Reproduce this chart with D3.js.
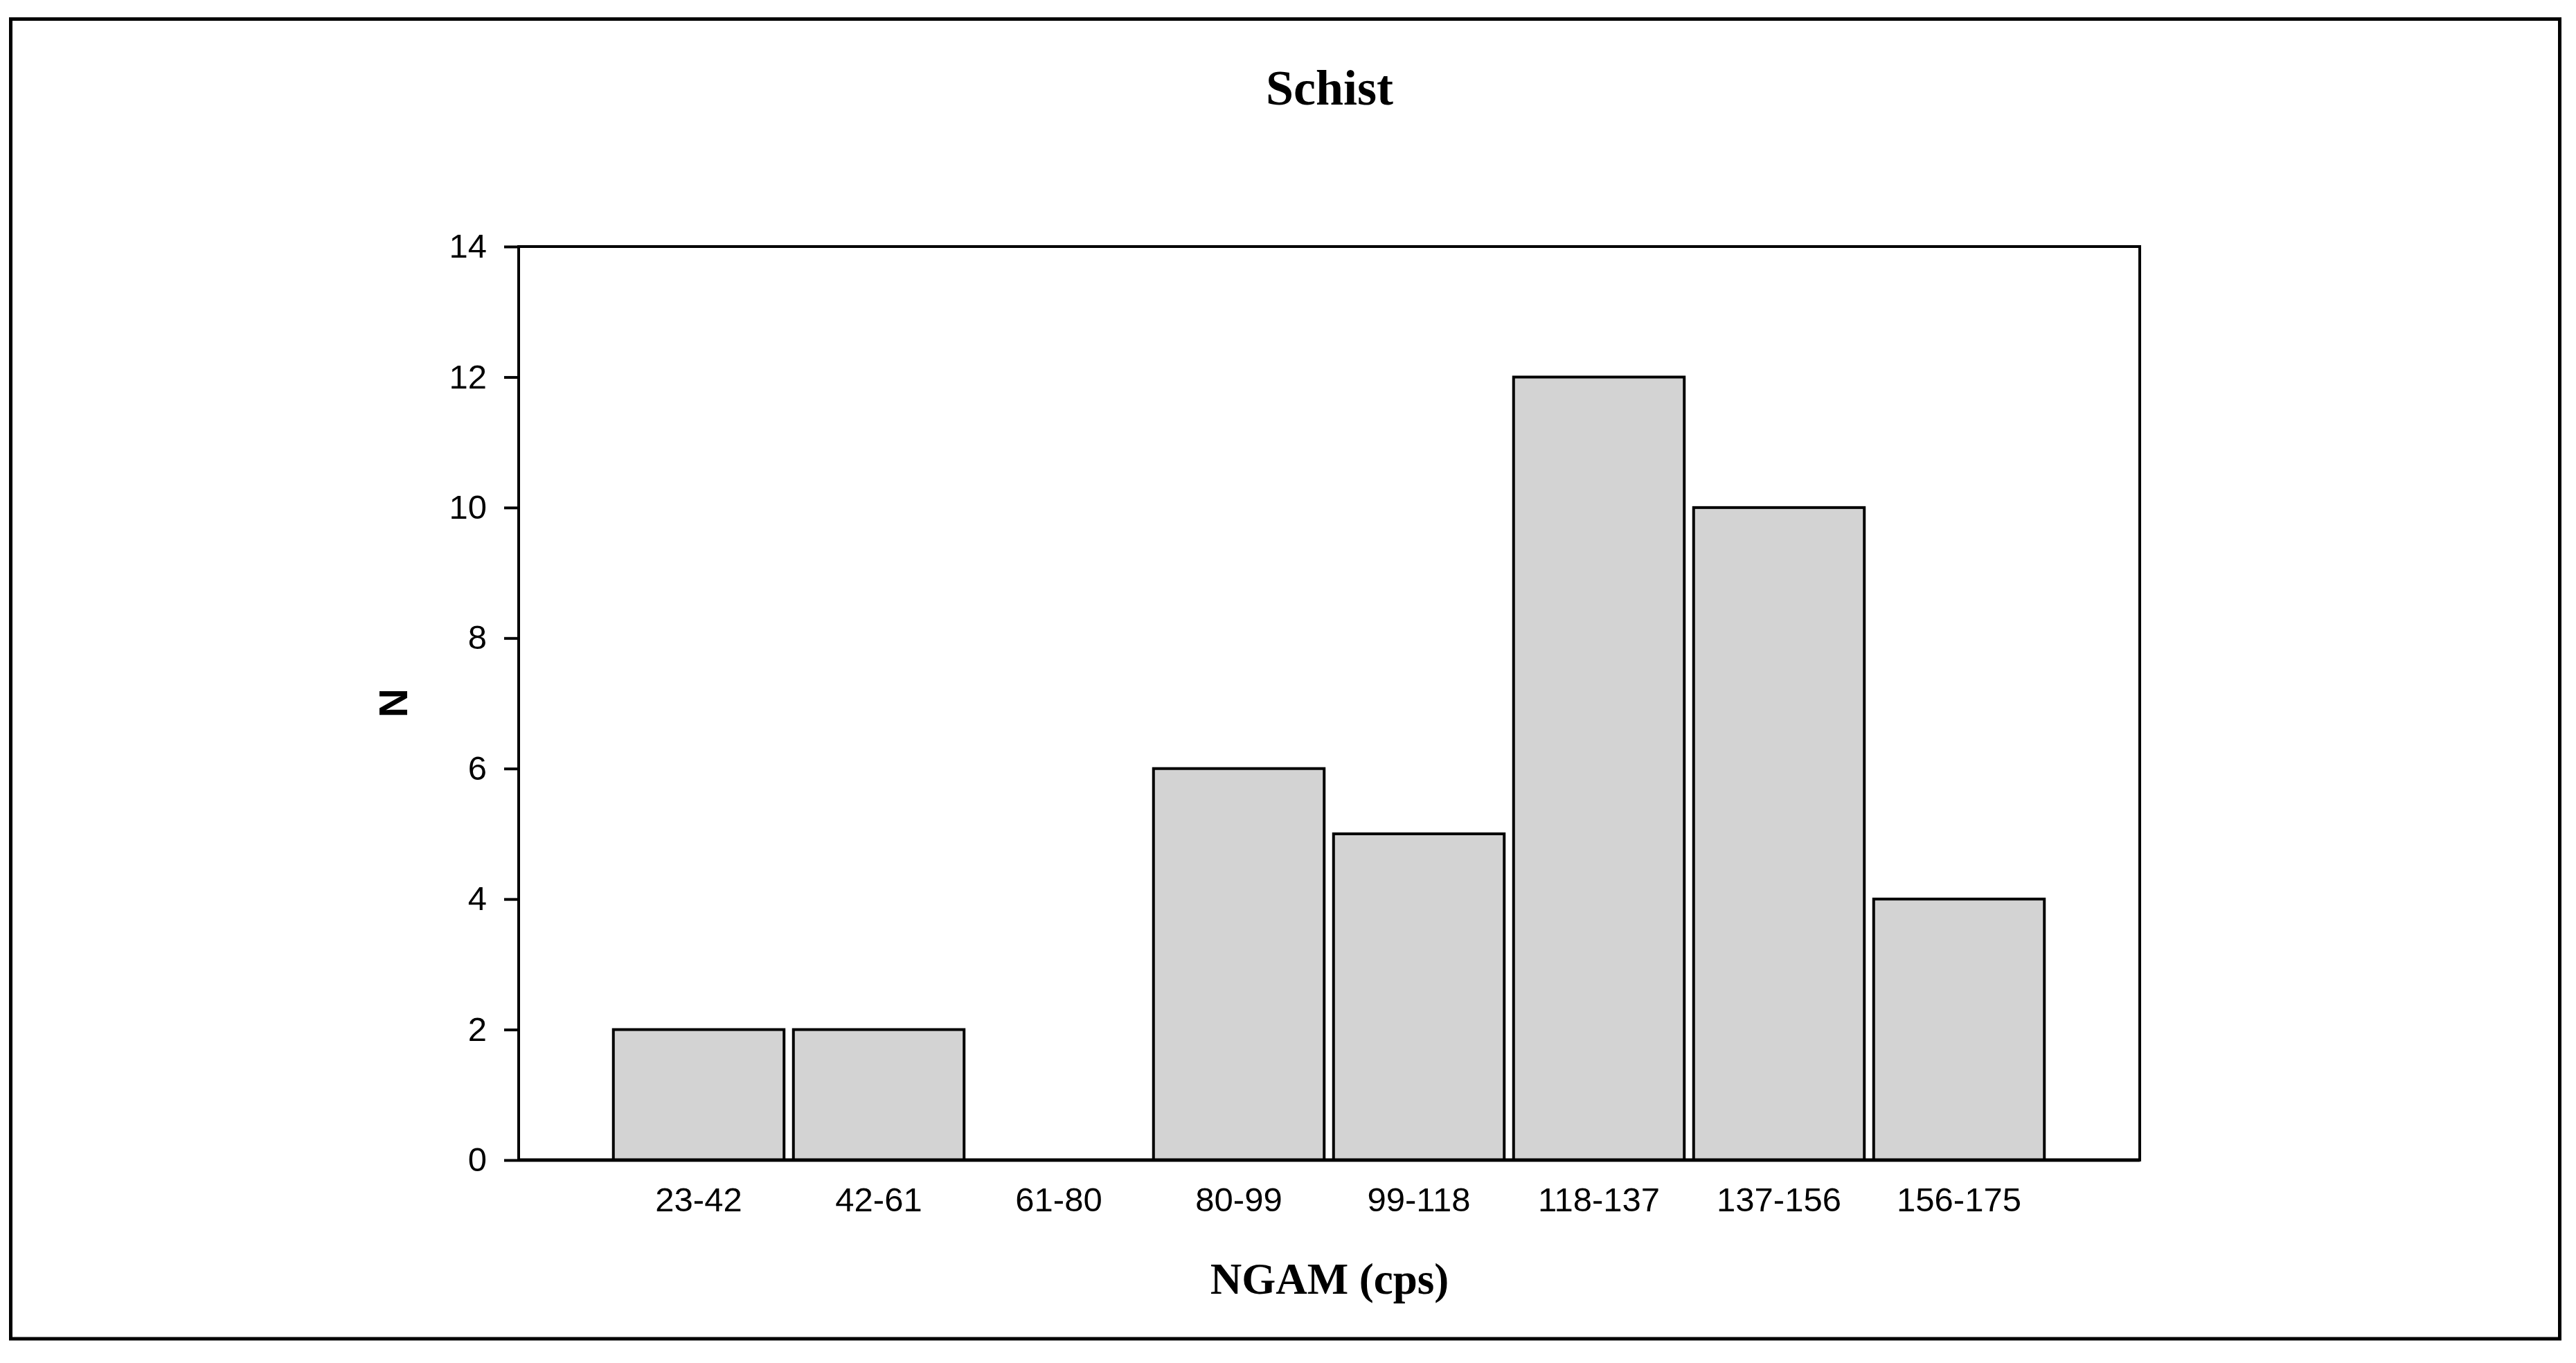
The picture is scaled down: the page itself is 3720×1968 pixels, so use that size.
<!DOCTYPE html>
<html>
<head>
<meta charset="utf-8">
<script src="https://cdn.jsdelivr.net/npm/d3@7"></script>
<style>
  html, body { margin: 0; padding: 0; background: #fff; }
  svg { display: block; }
</style>
</head>
<body>
<svg id="chart" width="3720" height="1968"></svg>
<script>
// ---- data ----
const categories = ["23-42", "42-61", "61-80", "80-99", "99-118", "118-137", "137-156", "156-175"];
const counts = [2, 2, 0, 6, 5, 12, 10, 4];
const yTicks = [0, 2, 4, 6, 8, 10, 12, 14];
const titleText = "Schist";
const xTitleText = "NGAM (cps)";
const yTitleText = "N";

// ---- layout ----
const W = 3720, H = 1968;
const plot = { left: 749, right: 3090, top: 356, bottom: 1675 };

const svg = d3.select("#chart");
svg.append("rect").attr("x", 0).attr("y", 0).attr("width", W).attr("height", H).attr("fill", "#fff");

// outer border
svg.append("rect")
  .attr("x", 15.5).attr("y", 27.5)
  .attr("width", 3681).attr("height", 1905.5)
  .attr("fill", "none").attr("stroke", "#000").attr("stroke-width", 5);

const x = d3.scaleBand()
  .domain(categories)
  .range([879, 2959])
  .paddingInner(0.052)
  .paddingOuter(0.026);

const y = d3.scaleLinear().domain([0, 14]).range([plot.bottom, plot.top]);

// bars
svg.append("g").selectAll("rect")
  .data(categories.map((c, i) => ({ c, v: counts[i] })).filter(d => d.v > 0))
  .join("rect")
  .attr("x", d => x(d.c))
  .attr("y", d => y(d.v))
  .attr("width", x.bandwidth())
  .attr("height", d => y(0) - y(d.v))
  .attr("fill", "#d3d3d3")
  .attr("stroke", "#000")
  .attr("stroke-width", 4);

// plot frame
svg.append("rect")
  .attr("x", plot.left).attr("y", plot.top)
  .attr("width", plot.right - plot.left).attr("height", plot.bottom - plot.top)
  .attr("fill", "none").attr("stroke", "#000").attr("stroke-width", 4);

// bottom axis line slightly heavier
svg.append("line")
  .attr("x1", plot.left).attr("x2", plot.right)
  .attr("y1", plot.bottom).attr("y2", plot.bottom)
  .attr("stroke", "#000").attr("stroke-width", 5);

// y axis
const yAxis = svg.append("g")
  .attr("transform", `translate(${plot.left},0)`)
  .call(d3.axisLeft(y).tickValues(yTicks).tickSize(21).tickPadding(25).tickFormat(d3.format("d")));
yAxis.select(".domain").remove();
yAxis.selectAll(".tick line").attr("stroke", "#000").attr("stroke-width", 4);
yAxis.selectAll(".tick text")
  .attr("font-family", "'Liberation Sans', Arial, sans-serif")
  .attr("font-size", 49).attr("fill", "#000");

// x axis
const xAxis = svg.append("g")
  .attr("transform", `translate(0,${plot.bottom})`)
  .call(d3.axisBottom(x).tickSize(0).tickPadding(39));
xAxis.select(".domain").remove();
xAxis.selectAll(".tick text")
  .attr("font-family", "'Liberation Sans', Arial, sans-serif")
  .attr("font-size", 49).attr("fill", "#000");

// titles
svg.append("text")
  .attr("x", 1920).attr("y", 151)
  .attr("text-anchor", "middle")
  .attr("font-family", "'Liberation Serif', 'Times New Roman', serif")
  .attr("font-weight", "bold").attr("font-size", 72)
  .text(titleText);

svg.append("text")
  .attr("x", 1920).attr("y", 1868)
  .attr("text-anchor", "middle")
  .attr("font-family", "'Liberation Serif', 'Times New Roman', serif")
  .attr("font-weight", "bold").attr("font-size", 63)
  .text(xTitleText);

svg.append("text")
  .attr("transform", "translate(588,1015) rotate(-90)")
  .attr("text-anchor", "middle")
  .attr("font-family", "'Liberation Sans', Arial, sans-serif")
  .attr("font-weight", "bold").attr("font-size", 58)
  .text(yTitleText);
</script>
</body>
</html>
